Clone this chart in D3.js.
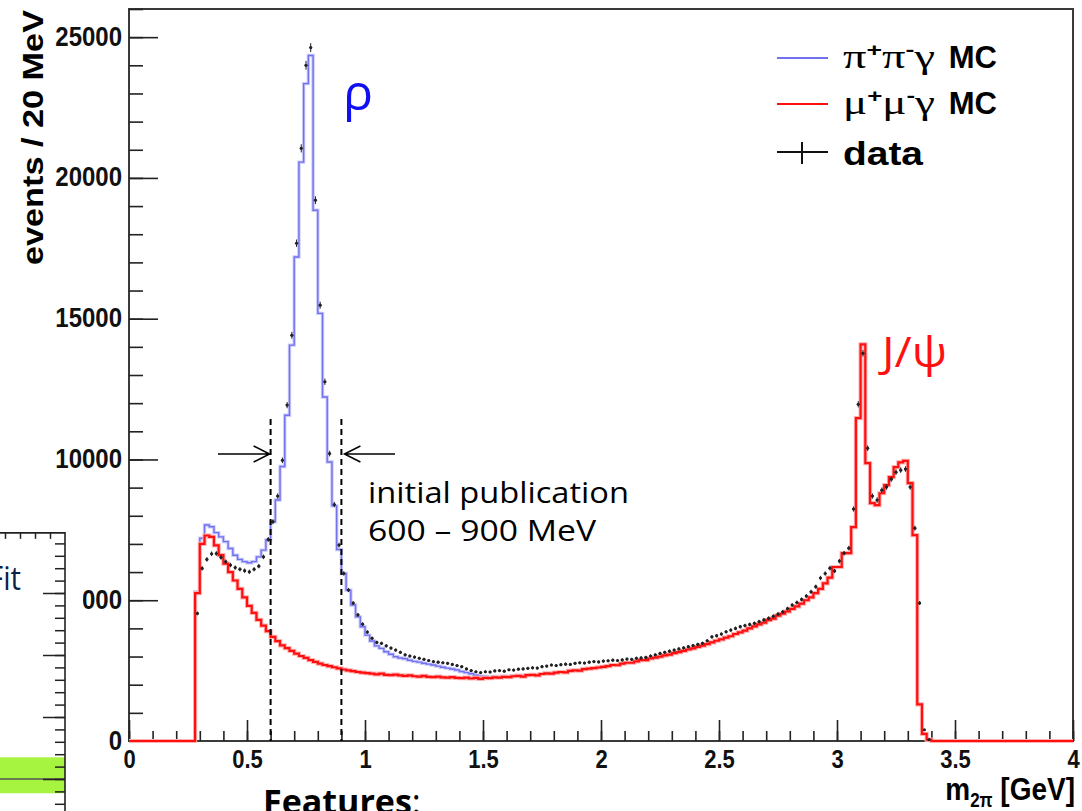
<!DOCTYPE html>
<html>
<head>
<meta charset="utf-8">
<script src="https://cdn.jsdelivr.net/npm/d3@7"></script>
<style>
  body { margin: 0; background: #fff; }
  svg { display: block; }
</style>
</head>
<body>
<svg id="chart" width="1082" height="811"></svg>
<script>
// histogram bins are 20 MeV wide; the lists start at 0.28 GeV, everything outside is 0
var binStart = 0.28
var binWidth = 0.02

// mu+ mu- gamma MC (red)
var muMuGammaMC = [
  5250, 7000, 7300, 7250, 6950, 6600, 6300, 6000, 5700, 5400,
  5100, 4800, 4550, 4300, 4100, 3900, 3700, 3550, 3400, 3300,
  3200, 3100, 3020, 2950, 2870, 2810, 2750, 2700, 2660, 2620,
  2580, 2540, 2510, 2480, 2450, 2430, 2410, 2390, 2370, 2390,
  2350, 2340, 2360, 2330, 2310, 2330, 2300, 2290, 2310, 2280,
  2270, 2290, 2260, 2250, 2270, 2240, 2230, 2250, 2220, 2240,
  2210, 2240, 2230, 2260, 2250, 2280, 2270, 2300, 2310, 2290,
  2340, 2350, 2330, 2380, 2400, 2390, 2430, 2450, 2440, 2490,
  2510, 2500, 2550, 2570, 2590, 2610, 2630, 2660, 2700, 2690,
  2750, 2780, 2780, 2830, 2870, 2870, 2930, 2960, 3000, 3040,
  3070, 3120, 3160, 3200, 3250, 3290, 3340, 3390, 3440, 3500,
  3560, 3610, 3670, 3720, 3800, 3860, 3920, 4000, 4070, 4140,
  4200, 4290, 4350, 4450, 4520, 4600, 4690, 4780, 4880, 5000,
  5100, 5250, 5400, 5600, 5800, 6180, 6180, 6670, 6670, 7600,
  11470, 14090, 9870, 8450, 8380, 8800, 9090, 9370, 9730, 9900,
  9950, 9160, 7310, 1300, 250, 50, 0
]

// pi+ pi- gamma MC (blue, drawn stacked on the mu mu gamma MC)
var piPiGammaMC = [
  5300, 7200, 7670, 7610, 7400, 7250, 7080, 6840, 6600, 6450,
  6370, 6330, 6370, 6540, 6780, 7140, 7790, 8560, 9750, 11570,
  14060, 17190, 20560, 23350, 24350, 18850, 15190, 12220, 9910, 8350,
  6800, 5950, 5360, 4830, 4410, 4060, 3760, 3550, 3380, 3290,
  3170, 3080, 2990, 2950, 2920, 2870, 2830, 2800, 2760, 2730,
  2700, 2660, 2620, 2590, 2560, 2520, 2470, 2430, 2390, 2340,
  2300, 2290, 2270, 2290, 2280, 2300, 2290, 2320, 2330, 2310,
  2350, 2350, 2330, 2380, 2400, 2390, 2430, 2450, 2440, 2490,
  2510, 2500, 2550, 2570, 2590, 2610, 2630, 2660, 2700, 2690,
  2750, 2780, 2780, 2830, 2870, 2870, 2930, 2960, 3000, 3040,
  3070, 3120, 3160, 3200, 3250, 3290, 3340, 3390, 3440, 3500,
  3560, 3610, 3670, 3720, 3800, 3860, 3920, 4000, 4070, 4140,
  4200, 4290, 4350, 4450, 4520, 4600, 4690, 4780, 4880, 5000,
  5100, 5250, 5400, 5600, 5800, 6180, 6180, 6670, 6670, 7600,
  11470, 14090, 9870, 8450, 8380, 8800, 9090, 9370, 9730, 9900,
  9950, 9160, 7310, 1300, 250, 50, 0
]

// data
var dataCounts = [
  4530, 6130, 6450, 6650, 6660, 6520, 6370, 6250, 6160, 6100,
  6050, 6010, 6100, 6210, 6540, 7160, 7790, 8700, 9970, 11930,
  14410, 17680, 21050, 24000, 24630, 19210, 15480, 12760, 10210, 8400,
  6960, 5950, 5360, 4900, 4480, 4150, 3870, 3650, 3500, 3470,
  3380, 3300, 3230, 3150, 3060, 3020, 2980, 2940, 2900, 2860,
  2820, 2800, 2780, 2760, 2720, 2680, 2640, 2560, 2500, 2460,
  2430, 2460, 2450, 2490, 2500, 2480, 2530, 2520, 2550, 2560,
  2580, 2600, 2590, 2640, 2660, 2700, 2680, 2710, 2730, 2720,
  2760, 2780, 2770, 2800, 2820, 2810, 2840, 2850, 2870, 2860,
  2880, 2910, 2900, 2940, 2950, 2970, 3020, 3060, 3110, 3150,
  3190, 3230, 3270, 3310, 3350, 3390, 3430, 3470, 3560, 3700,
  3740, 3800, 3880, 3940, 4000, 4060, 4100, 4140, 4180, 4240,
  4300, 4360, 4430, 4510, 4590, 4700, 4830, 4920, 5030, 5150,
  5300, 5480, 5790, 5950, 6140, 6040, 6390, 6670, 6850, 8240,
  11960, 13770, 10400, 8700, 8560, 8910, 9020, 9300, 9550, 9620,
  9660, 9020, 7560, 4900, 400, 50, 0
]

// axes
var xMajor = [0, 0.5, 1, 1.5, 2, 2.5, 3, 3.5, 4]
var xMinor = d3.range(0, 4.001, 0.1)
var yMajor = [0, 5000, 10000, 15000, 20000, 25000]
var yMinor = d3.range(0, 26001, 1000)

// the initial publication window (GeV)
var windowEdges = [0.6, 0.9]

var COLOR = {
  BLUE: '#7272ee',
  BLUE_HALO: '#cbcbfb',
  RED: '#ff1010',
  RED_HALO: '#ffb4b4',
  DATA: '#222'
}

var svg = d3.select('#chart')

var x = d3.scaleLinear().domain([0, 4]).range([129, 1073])
var y = d3.scaleLinear().domain([0, 26000]).range([741, 9])

// frame
svg
  .append('rect')
  .attr('x', x(0))
  .attr('y', y(26000))
  .attr('width', x(4) - x(0))
  .attr('height', y(0) - y(26000))
  .attr('fill', 'none')
  .attr('stroke', '#3a3a3a')
  .attr('stroke-width', 2)

// axes, ROOT style: ticks inside the frame
// (the ROOT picture was stretched vertically, so the labels are a bit tall)
var yAxisG = svg
  .append('g')
  .attr('transform', 'translate(' + x(0) + ',0)')
  .call(
    d3.axisLeft(y).tickValues(yMajor).tickSizeInner(-29).tickSizeOuter(0)
      .tickPadding(7).tickFormat(d3.format('d'))
  )
svg
  .append('g')
  .attr('transform', 'translate(' + x(0) + ',0)')
  .call(d3.axisLeft(y).tickValues(yMinor).tickSizeInner(-14).tickSizeOuter(0).tickFormat(''))

var xAxisG = svg
  .append('g')
  .attr('transform', 'translate(0,' + y(0) + ')')
  .call(
    d3.axisBottom(x).tickValues(xMajor).tickSizeInner(-21).tickSizeOuter(0)
      .tickPadding(8).tickFormat(d3.format('~g'))
  )
svg
  .append('g')
  .attr('transform', 'translate(0,' + y(0) + ')')
  .call(d3.axisBottom(x).tickValues(xMinor).tickSizeInner(-10).tickSizeOuter(0).tickFormat(''))

svg.selectAll('.domain').remove()
svg.selectAll('.tick line').attr('stroke', '#222').attr('stroke-width', 1.6)
yAxisG
  .selectAll('.tick text')
  .style('font', 'bold 24px "Liberation Sans", Arial, sans-serif')
  .attr('fill', '#111')
  .attr('transform', 'scale(1,1.12)')
  .attr('dy', '0.3em')
xAxisG
  .selectAll('.tick text')
  .style('font', 'bold 22px "Liberation Sans", Arial, sans-serif')
  .attr('fill', '#111')
  .attr('transform', 'scale(1,1.15)')

// histogram outline as step points
function histPoints(values) {
  var pts = [[0, 0]]
  values.forEach((v, i) => pts.push([binStart + i * binWidth, v]))
  pts.push([binStart + values.length * binWidth, 0])
  pts.push([4, 0])
  return pts
}
var stepLine = d3
  .line()
  .x(d => x(d[0]))
  .y(d => y(d[1]))
  .curve(d3.curveStepAfter)

function drawHist(values, color, halo, width) {
  svg
    .append('path')
    .attr('d', stepLine(histPoints(values)))
    .attr('fill', 'none')
    .attr('stroke', halo)
    .attr('stroke-width', width + 2)
  svg
    .append('path')
    .attr('d', stepLine(histPoints(values)))
    .attr('fill', 'none')
    .attr('stroke', color)
    .attr('stroke-width', width)
}

drawHist(piPiGammaMC, COLOR.BLUE, COLOR.BLUE_HALO, 1.4)
drawHist(muMuGammaMC, COLOR.RED, COLOR.RED_HALO, 2.2)

// data points with error bars
var points = svg
  .append('g')
  .selectAll('g')
  .data(dataCounts.map((v, i) => ({ lo: binStart + i * binWidth, v: v })))
  .enter()
  .filter(d => d.v > 0)
  .append('g')
  .attr('stroke', COLOR.DATA)
  .attr('stroke-width', 1)

points
  .append('line')
  .attr('x1', d => x(d.lo) + 1)
  .attr('x2', d => x(d.lo + binWidth) - 1)
  .attr('y1', d => y(d.v))
  .attr('y2', d => y(d.v))
points
  .append('line')
  .attr('x1', d => x(d.lo + binWidth / 2))
  .attr('x2', d => x(d.lo + binWidth / 2))
  .attr('y1', d => y(d.v + Math.sqrt(d.v)))
  .attr('y2', d => y(d.v - Math.sqrt(d.v)))
points
  .append('circle')
  .attr('cx', d => x(d.lo + binWidth / 2))
  .attr('cy', d => y(d.v))
  .attr('r', 1.6)
  .attr('fill', COLOR.DATA)
  .attr('stroke', 'none')

// axis titles
svg
  .append('text')
  .attr('transform', 'translate(43,10) rotate(-90)')
  .attr('text-anchor', 'end')
  .attr('textLength', 255)
  .attr('lengthAdjust', 'spacingAndGlyphs')
  .style('font', 'bold 30px "Liberation Sans", Arial, sans-serif')
  .text('events / 20 MeV')

var xTitle = svg
  .append('text')
  .attr('transform', 'translate(1075,800) scale(1,1.15)')
  .attr('text-anchor', 'end')
  .style('font', 'bold 28px "Liberation Sans", Arial, sans-serif')
xTitle.append('tspan').text('m')
xTitle.append('tspan').attr('dy', 6).style('font-size', '17px').text('2π')
xTitle.append('tspan').attr('dy', -6).text(' [GeV]')

// the 600 - 900 MeV window
svg
  .selectAll('.window')
  .data(windowEdges)
  .enter()
  .append('line')
  .attr('x1', d => x(d))
  .attr('x2', d => x(d))
  .attr('y1', 419)
  .attr('y2', y(0))
  .attr('stroke', '#000')
  .attr('stroke-width', 2)
  .attr('stroke-dasharray', '6,4')

function arrow(x1, x2, yy) {
  var dir = x2 > x1 ? 1 : -1
  svg
    .append('path')
    .attr('d', 'M' + x1 + ',' + yy + 'H' + x2 +
      'M' + (x2 - dir * 16) + ',' + (yy - 8) + 'L' + x2 + ',' + yy +
      'L' + (x2 - dir * 16) + ',' + (yy + 8))
    .attr('fill', 'none')
    .attr('stroke', '#000')
    .attr('stroke-width', 1.5)
}
arrow(218, x(0.6) - 1, 454)
arrow(395, x(0.9) + 3, 454)

var noteFont = '"Open Sans", "Noto Sans", sans-serif'
svg
  .append('text')
  .attr('x', 368)
  .attr('y', 503)
  .attr('textLength', 261)
  .attr('lengthAdjust', 'spacingAndGlyphs')
  .style('font-family', noteFont)
  .style('font-size', '30px')
  .text('initial publication')
svg
  .append('text')
  .attr('x', 368)
  .attr('y', 541)
  .attr('textLength', 228)
  .attr('lengthAdjust', 'spacingAndGlyphs')
  .style('font-family', noteFont)
  .style('font-size', '30px')
  .text('600 – 900 MeV')

svg
  .append('text')
  .attr('x', 343)
  .attr('y', 110)
  .attr('fill', '#1010f0')
  .style('font-family', noteFont)
  .style('font-size', '50px')
  .text('ρ')
svg
  .append('text')
  .attr('x', 882)
  .attr('y', 367)
  .attr('fill', '#ff1010')
  .attr('textLength', 65)
  .attr('lengthAdjust', 'spacingAndGlyphs')
  .style('font-family', noteFont)
  .style('font-size', '42px')
  .text('J/ψ')

// legend
var legend = svg.append('g')
var legendRows = [
  { y: 58, color: COLOR.BLUE, a: 'π', b: 'γ', kind: 'line' },
  { y: 104, color: COLOR.RED, a: 'μ', b: 'γ', kind: 'line' },
  { y: 152, color: '#111', kind: 'data' }
]
legendRows.forEach(r => {
  legend
    .append('line')
    .attr('x1', 777)
    .attr('x2', 828)
    .attr('y1', r.y)
    .attr('y2', r.y)
    .attr('stroke', r.color)
    .attr('stroke-width', 2)
  if (r.kind === 'data') {
    legend
      .append('line')
      .attr('x1', 802)
      .attr('x2', 802)
      .attr('y1', r.y - 10)
      .attr('y2', r.y + 12)
      .attr('stroke', r.color)
      .attr('stroke-width', 2)
    legend
      .append('text')
      .attr('x', 843)
      .attr('y', r.y + 13)
      .attr('textLength', 80)
      .attr('lengthAdjust', 'spacingAndGlyphs')
      .style('font', 'bold 33px "Liberation Sans", Arial, sans-serif')
      .text('data')
    return
  }
  var t = legend
    .append('text')
    .attr('x', 843)
    .attr('y', r.y + 10)
    .attr('textLength', 92)
    .attr('lengthAdjust', 'spacingAndGlyphs')
    .style('font-family', '"Liberation Serif", serif')
    .style('font-size', '33px')
  t.append('tspan').text(r.a)
  t.append('tspan').attr('dy', -12).style('font', 'bold 19px "Liberation Sans", sans-serif').text('+')
  t.append('tspan').attr('dy', 12).text(r.a)
  t.append('tspan').attr('dy', -12).style('font', 'bold 19px "Liberation Sans", sans-serif').text('-')
  t.append('tspan').attr('dy', 12).text(r.b)
  legend
    .append('text')
    .attr('x', 997)
    .attr('y', r.y + 10)
    .attr('text-anchor', 'end')
    .style('font', 'bold 31px "Liberation Sans", sans-serif')
    .text('MC')
})

// piece of another slide figure overlapping on the left
var panelY = d3.scaleLinear().domain([0, 1]).range([779, 717])
var panel = svg.append('g')
panel
  .append('rect')
  .attr('x', -10)
  .attr('y', panelY(3.97))
  .attr('width', 93)
  .attr('height', 811 - panelY(3.97) + 10)
  .attr('fill', '#fff')
panel
  .append('rect')
  .attr('x', -2)
  .attr('y', panelY(0.35))
  .attr('width', 67)
  .attr('height', panelY(-0.23) - panelY(0.35))
  .attr('fill', '#a6f440')
panel
  .append('line')
  .attr('x1', -2)
  .attr('x2', 65)
  .attr('y1', panelY(0))
  .attr('y2', panelY(0))
  .attr('stroke', '#555')
  .attr('stroke-width', 1.5)
panel
  .append('path')
  .attr('d', 'M-2,' + panelY(3.97) + 'H65V811')
  .attr('fill', 'none')
  .attr('stroke', '#222')
  .attr('stroke-width', 1.6)
panel
  .append('g')
  .attr('transform', 'translate(65,0)')
  .call(d3.axisRight(panelY).tickValues([0, 1, 2, 3]).tickSizeInner(-22).tickSizeOuter(0).tickFormat(''))
panel
  .append('g')
  .attr('transform', 'translate(65,0)')
  .call(d3.axisRight(panelY).tickValues(d3.range(-0.4, 3.9, 0.2)).tickSizeInner(-10).tickSizeOuter(0).tickFormat(''))
var panelX = d3.scaleLinear().domain([0, 1]).range([5, 20])
panel
  .append('g')
  .attr('transform', 'translate(0,' + panelY(3.97) + ')')
  .call(d3.axisTop(panelX).tickValues([0, 1, 2, 3]).tickSizeInner(-6).tickSizeOuter(0).tickFormat(''))
panel.selectAll('.domain').remove()
panel.selectAll('.tick line').attr('stroke', '#222').attr('stroke-width', 1.5)
panel
  .append('text')
  .attr('x', -12)
  .attr('y', 590)
  .attr('textLength', 33)
  .attr('lengthAdjust', 'spacingAndGlyphs')
  .attr('fill', '#0d1f4a')
  .style('font-family', noteFont)
  .style('font-size', '32px')
  .text('Fit')

// slide text below the plot
var feat = svg
  .append('text')
  .attr('x', 263)
  .attr('y', 814)
  .style('font-family', noteFont)
  .style('font-size', '34px')
feat.append('tspan').style('font-weight', 'bold').text('Features')
feat.append('tspan').text(':')
</script>
</body>
</html>
